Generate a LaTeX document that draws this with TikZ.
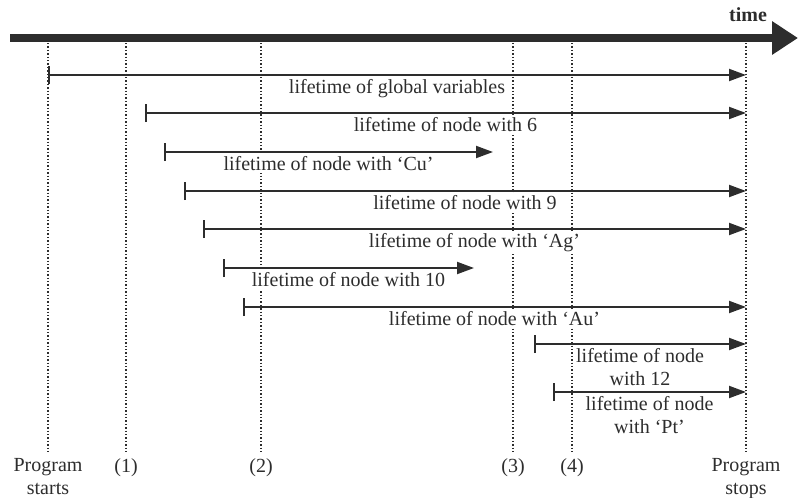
\documentclass[tikz,border=0pt]{standalone}
\usepackage{fontspec}
\setmainfont{Liberation Serif}
\usetikzlibrary{arrows.meta, positioning}

\definecolor{ink}{RGB}{45, 45, 45}

\begin{document}
\begin{tikzpicture}[x=0.5pt, y=-0.5pt, font=\fontsize{10}{11.5}\selectfont, text=ink,
    markline/.style={densely dotted, ink, line width=0.7pt, shorten >=1.5pt},
    life/.style={{Bar[width=9pt]}-{Triangle[length=8.5pt,width=6pt]}, line width=1pt, ink},
    lbl/.style={below=0.6pt, inner sep=1.2pt, align=center, fill=white}]
  \useasboundingbox (0,0) rectangle (798,498);

  % time axis
  \coordinate (t0) at (10,38);
  \coordinate (t1) at (798,38);
  \draw[ink, line width=4pt, -{Triangle[length=13pt,width=16pt]}] (t0) -- (t1);
  \node[font=\fontsize{10}{11.5}\selectfont\bfseries] (time) at (748,15) {time};

  % points in time
  \foreach \n/\x/\txt in {ps/48/{Program\\starts}, p1/126/(1), p2/261/(2),
      p3/513/(3), p4/572/(4), pe/746/{Program\\stops}} {
    \coordinate (\n top) at (\x,43);
    \node[anchor=north, align=center, inner sep=1pt] (\n) at (\x,456) {\txt};
    \draw[markline] (\n top) -- (\n);
  }

  % lifetimes
  \foreach \n/\a/\b/\y/\txt in {
      gv/48/746/75/{lifetime of global variables},
      n6/145/746/113/{lifetime of node with 6},
      ncu/164/493/152/{lifetime of node with `Cu'},
      n9/184/746/191/{lifetime of node with 9},
      nag/203/746/229/{lifetime of node with `Ag'},
      n10/223/474/268/{lifetime of node with 10},
      nau/243/746/307/{lifetime of node with `Au'},
      n12/534/746/344/{lifetime of node\\with 12},
      npt/553/746/392/{lifetime of node\\with `Pt'}} {
    \coordinate (\n a) at (\a,\y);
    \coordinate (\n b) at (\b,\y);
    \draw[life] (\n a) -- node[lbl] (\n lbl) {\txt} (\n b);
  }
\end{tikzpicture}
\end{document}
